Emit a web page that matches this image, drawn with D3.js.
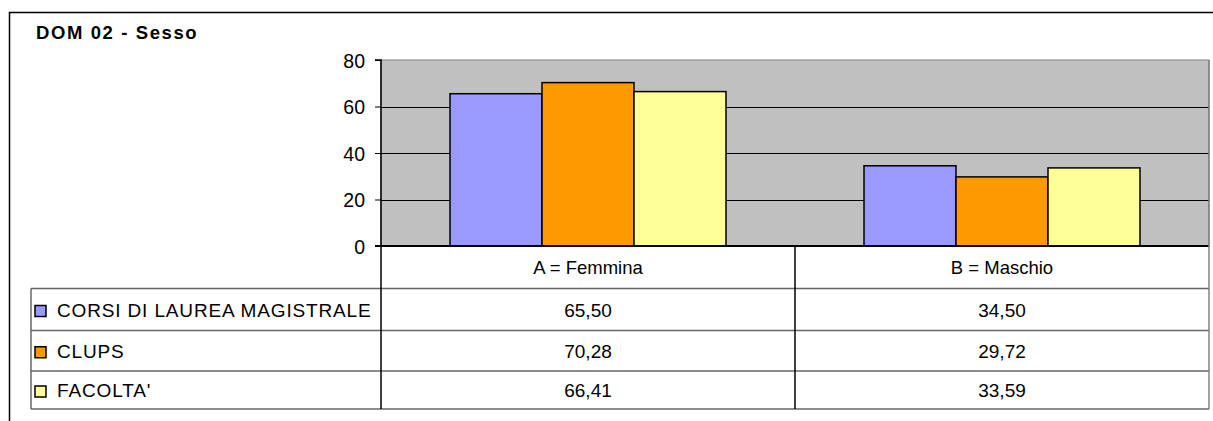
<!DOCTYPE html>
<html>
<head>
<meta charset="utf-8">
<script src="https://cdn.jsdelivr.net/npm/d3@7"></script>
<style>
  body { margin: 0; background: #fff; }
  svg { display: block; font-family: Arial, "Liberation Sans", sans-serif; }
</style>
</head>
<body>
<div id="chart"></div>
<script>
// data
var categories = ["A = Femmina", "B = Maschio"];
var seriesNames = ["CORSI DI LAUREA MAGISTRALE", "CLUPS", "FACOLTA'"];
var seriesColors = ["#9999FF", "#FF9900", "#FFFF99"];
var corsiValues = [65.50, 34.50];
var clupsValues = [70.28, 29.72];
var facoltaValues = [66.41, 33.59];
var yTicks = [0, 20, 40, 60, 80];

var seriesValues = [corsiValues, clupsValues, facoltaValues];

var W = 1213, H = 421;
var svg = d3.select("#chart").append("svg")
  .attr("width", W)
  .attr("height", H);

// outer frame (open at bottom)
svg.append("path")
  .attr("d", "M9.5," + H + " V12.5 H" + W)
  .attr("fill", "none")
  .attr("stroke", "#000")
  .attr("stroke-width", 1.5);

svg.append("text")
  .text("DOM 02 - Sesso")
  .attr("x", 36)
  .attr("y", 38.5)
  .attr("font-size", "18.5px")
  .attr("font-weight", "bold")
  .attr("letter-spacing", "1.6px")
  .attr("fill", "#000");

var plot = {left: 381, right: 1209, top: 60, bottom: 246};

var x0 = d3.scaleBand()
  .domain(categories)
  .range([plot.left, plot.right])
  .paddingInner(0)
  .paddingOuter(0);

var x1 = d3.scaleBand()
  .domain(seriesNames)
  .range([0, x0.bandwidth() * 276 / 414])
  .padding(0);

var y = d3.scaleLinear()
  .domain([0, 80])
  .range([plot.bottom, plot.top]);

var g = svg.append("g");

// plot area background
g.append("rect")
  .attr("x", plot.left)
  .attr("y", plot.top)
  .attr("width", plot.right - plot.left)
  .attr("height", plot.bottom - plot.top)
  .attr("fill", "#C0C0C0")
  .attr("stroke", "#808080")
  .attr("stroke-width", 1);

// gridlines
g.selectAll(".grid")
  .data(yTicks.filter(function(d) { return d > 0 && d < 80; }))
  .enter().append("line")
    .attr("class", "grid")
    .attr("x1", plot.left)
    .attr("x2", plot.right)
    .attr("y1", function(d) { return Math.round(y(d)) + 0.5; })
    .attr("y2", function(d) { return Math.round(y(d)) + 0.5; })
    .attr("stroke", "#000")
    .attr("stroke-width", 1);

// bars
var groupOffset = (x0.bandwidth() - x1.range()[1]) / 2;
var groups = g.selectAll(".cat")
  .data(categories)
  .enter().append("g")
    .attr("class", "cat")
    .attr("transform", function(d) { return "translate(" + (x0(d) + groupOffset) + ",0)"; });

groups.selectAll("rect")
  .data(function(d, i) {
    return seriesNames.map(function(s, j) { return {s: s, v: seriesValues[j][i], c: seriesColors[j]}; });
  })
  .enter().append("rect")
    .attr("x", function(d) { return x1(d.s); })
    .attr("y", function(d) { return y(d.v); })
    .attr("width", x1.bandwidth())
    .attr("height", function(d) { return plot.bottom - y(d.v); })
    .attr("fill", function(d) { return d.c; })
    .attr("stroke", "#000")
    .attr("stroke-width", 1.5);

// y axis
var yAxis = d3.axisLeft(y)
  .tickValues(yTicks)
  .tickSize(6)
  .tickPadding(10)
  .tickFormat(d3.format("d"));

var ya = svg.append("g")
  .attr("transform", "translate(" + plot.left + ",0)")
  .call(yAxis);
ya.select(".domain").attr("stroke", "#000").attr("stroke-width", 1.5).attr("d", "M-6," + plot.top + "H0V" + plot.bottom + "H-6");
ya.selectAll(".tick line").attr("stroke", "#000").attr("stroke-width", 1);
ya.selectAll(".tick text")
  .attr("font-size", "19.5px")
  .attr("font-family", "Arial, 'Liberation Sans', sans-serif")
  .attr("fill", "#000")
  .attr("dy", "0.36em");

// x axis line
svg.append("line")
  .attr("x1", plot.left - 6).attr("x2", plot.right)
  .attr("y1", plot.bottom).attr("y2", plot.bottom)
  .attr("stroke", "#000").attr("stroke-width", 2);

// data table
var rowLines = [288.5, 330.5, 371, 409];
var tableLeft = 31;
var tg = svg.append("g");

// header row: category labels
tg.selectAll(".cathead")
  .data(categories)
  .enter().append("text")
    .attr("x", function(d) { return x0(d) + x0.bandwidth() / 2; })
    .attr("y", 274)
    .attr("text-anchor", "middle")
    .attr("font-size", "18.5px")
    .attr("fill", "#000")
    .text(function(d) { return d; });

// horizontal lines
tg.selectAll(".hline")
  .data(rowLines)
  .enter().append("line")
    .attr("x1", function(d, i) { return tableLeft; })
    .attr("x2", plot.right)
    .attr("y1", function(d) { return d; })
    .attr("y2", function(d) { return d; })
    .attr("stroke", "#666")
    .attr("stroke-width", 1.5);

// vertical lines
var vlines = [
  {x: tableLeft, y1: rowLines[0], y2: rowLines[3], c: "#666"},
  {x: plot.left, y1: plot.bottom, y2: rowLines[3], c: "#000"},
  {x: x0(categories[1]), y1: plot.bottom, y2: rowLines[3], c: "#000"},
  {x: plot.right, y1: plot.top, y2: rowLines[3], c: "#808080"}
];
tg.selectAll(".vline")
  .data(vlines)
  .enter().append("line")
    .attr("x1", function(d) { return d.x; })
    .attr("x2", function(d) { return d.x; })
    .attr("y1", function(d) { return d.y1; })
    .attr("y2", function(d) { return d.y2; })
    .attr("stroke", function(d) { return d.c; })
    .attr("stroke-width", 1.5);

var fmt = function(v) { return d3.format(".2f")(v).replace(".", ","); };

seriesNames.forEach(function(s, j) {
  var top = rowLines[j], bot = rowLines[j + 1];
  var mid = (top + bot) / 2;
  tg.append("rect")
    .attr("x", 35)
    .attr("y", mid - 4)
    .attr("width", 11)
    .attr("height", 11)
    .attr("fill", seriesColors[j])
    .attr("stroke", "#000")
    .attr("stroke-width", 1.5);
  tg.append("text")
    .attr("x", 57)
    .attr("y", mid + 7)
    .attr("font-size", "19px")
    .attr("letter-spacing", "0.85px")
    .attr("fill", "#000")
    .text(s);
  categories.forEach(function(c, i) {
    tg.append("text")
      .attr("x", x0(c) + x0.bandwidth() / 2)
      .attr("y", mid + 7)
      .attr("text-anchor", "middle")
      .attr("font-size", "19px")
      .attr("fill", "#000")
      .text(fmt(seriesValues[j][i]));
  });
});
</script>
</body>
</html>
